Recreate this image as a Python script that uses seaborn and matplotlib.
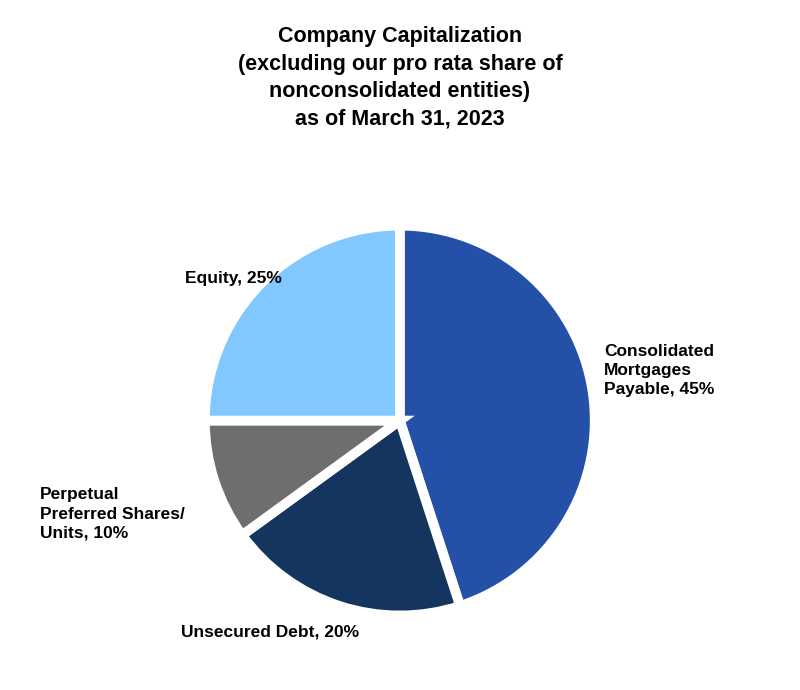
import matplotlib
matplotlib.use("Agg")
import matplotlib.pyplot as plt
import seaborn as sns

sns.set_theme(style="white")
plt.rcParams['font.family'] = ['Liberation Sans', 'DejaVu Sans']
plt.rcParams['text.color'] = 'black'

categories = ["Consolidated\nMortgages\nPayable", "Unsecured Debt", "Perpetual\nPreferred Shares/\nUnits", "Equity"]
shares = [45, 20, 10, 25]
colors = ["#2550A8", "#14355E", "#6E6E6E", "#80C8FF"]

fig = plt.figure(figsize=(8, 6.9), dpi=100)
fig.patch.set_facecolor("white")
ax = fig.add_axes([0.256, 0.108, 0.4875, 0.565])
ax.pie(shares, colors=colors, startangle=90, counterclock=False,
       wedgeprops=dict(edgecolor="white", linewidth=7))
ax.set_xlim(-1.0, 1.0)
ax.set_ylim(-1.0, 1.0)
ax.set_aspect("equal")
ax.axis("off")

fig.text(0.5, 0.962, "Company Capitalization\n(excluding our pro rata share of\nnonconsolidated entities)\nas of March 31, 2023",
         ha="center", va="top", fontsize=15.5, fontweight="bold", linespacing=1.4)

lab = [f"{c}, {s}%" for c, s in zip(categories, shares)]
kw = dict(fontsize=12.5, fontweight="bold", linespacing=1.35)
fig.text(0.755, 0.463, lab[0], ha="left", va="center", **kw)
fig.text(0.338, 0.084, lab[1], ha="center", va="center", **kw)
fig.text(0.05, 0.255, lab[2], ha="left", va="center", **kw)
fig.text(0.352, 0.597, lab[3], ha="right", va="center", **kw)

fig.savefig("out.png", dpi=100, facecolor="white")
